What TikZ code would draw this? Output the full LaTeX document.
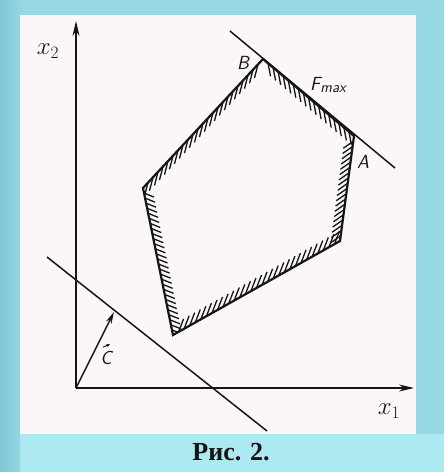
\documentclass[tikz,border=0pt]{standalone}
\usepackage{fontspec}
\newfontfamily\capfont{Liberation Serif}
\usetikzlibrary{calc,arrows.meta}
\definecolor{outerbg}{HTML}{96D9E4}
\definecolor{leftbg}{HTML}{80C6D3}
\definecolor{capband}{HTML}{ACE9F1}
\definecolor{panelbg}{HTML}{FBF6F8}
\definecolor{ink}{HTML}{151515}
\tikzset{
  axis/.style={draw=ink, line width=1.9pt, -{Stealth[length=15pt,width=7pt]}},
  edge/.style={draw=ink, line width=2.2pt, line join=miter},
  level/.style={draw=ink, line width=1.5pt},
  hatch/.style={draw=ink, line width=1.3pt},
  vec/.style={draw=ink, line width=1.5pt, -{Stealth[length=12pt,width=6pt]}},
  small/.style={draw=ink, line width=0.9pt, -{Stealth[length=4pt,width=3pt]}},
  lab/.style={text=ink, inner sep=0pt, font=\sffamily\itshape\fontsize{19}{19}\selectfont},
  xlab/.style={text=ink, inner sep=0pt, font=\fontsize{25}{25}\selectfont},
}
\newcommand\hatchedge[4]{%
  \foreach \i in {1,...,#3}{%
    \pgfmathsetmacro\hpos{\i/(#3+1)}%
    \draw[hatch] ($(#1)!\hpos!(#2)$) -- ++#4;
  }}
\begin{document}
\begin{tikzpicture}[x=1pt,y=-1pt]
\useasboundingbox (0,0) rectangle (444,472);
\fill[outerbg] (0,0) rectangle (444,472);
\shade[left color=leftbg, right color=outerbg] (0,0) rectangle (22,472);
\fill[capband] (20,434) rectangle (444,472);
\fill[panelbg] (20,15) rectangle (416,434);

% coordinates
\coordinate (O) at (76,388);
\coordinate (X1) at (414,388);
\coordinate (X2) at (76,21);
\coordinate (B) at (263,59);
\coordinate (A) at (354,136);
\coordinate (R) at (340,241);
\coordinate (D) at (173,335);
\coordinate (L) at (143,188);
\coordinate (F1) at (230,31);
\coordinate (F2) at (395,168);
\coordinate (G1) at (47,257);
\coordinate (G2) at (267,431);
\coordinate (C) at (114,312);

% hatching inside the polygon
\begin{scope}
\clip (B) -- (L) -- (D) -- (R) -- (A) -- cycle;
\hatchedge{B}{L}{23}{(-3.5,13.5)}
\hatchedge{B}{A}{17}{(2.5,13)}
\hatchedge{A}{R}{19}{(-10,7)}
\hatchedge{R}{D}{29}{(5,-13)}
\hatchedge{D}{L}{28}{(10,4)}
\end{scope}

% polygon
\draw[edge] (B) -- (L) -- (D) -- (R) -- (A) -- cycle;

% lines
\draw[level] (F1) -- (F2);
\draw[level] (G1) -- (G2);

% axes
\draw[axis] (O) -- (X1);
\draw[axis] (O) -- (X2);
\draw[vec] (O) -- (C);

% labels
\node[xlab] (lx2) at (48,51) {$x_2$};
\node[xlab] (lx1) at (389,411) {$x_1$};
\node[lab] (lB) at (243,63) {B};
\node[lab] (lA) at (363,162) {A};
\node[lab] (lF) at (328,85) {F\raisebox{-0.35ex}{\fontsize{15}{15}\selectfont max}};
\node[lab] (lC) at (106,358) {C};
\draw[small] ($(lC.north)+(-3,-4)$) -- ++(7,-3);
\node[text=ink, font=\capfont\bfseries\fontsize{26}{26}\selectfont] (cap) at (231,452) {Рис. 2.};
\end{tikzpicture}
\end{document}
